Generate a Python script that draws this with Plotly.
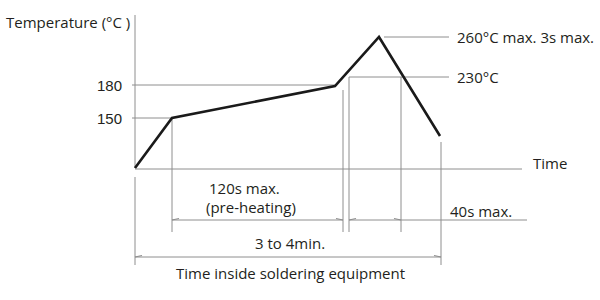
import plotly.graph_objects as go

# Schematic reflow profile (diagram units: x = time position, y = level, top-down)
profile_x = [135, 172, 335, 379, 440]
profile_y = [168, 118, 86, 37, 136]

level_labels = ["180", "150"]
level_y = [85, 118]
level_end_x = [335, 172]

peak_labels = ["260°C max. 3s max.", "230°C"]
peak_y = [37, 77]
peak_start_x = [384, 349]

# guide verticals: (x, y_top, y_bottom)
guide_x = [135, 172, 343, 349, 401, 441]
guide_top = [177, 118, 90, 77, 77, 142]
guide_bot = [265, 232, 232, 232, 232, 265]

dim_texts = ["120s max.", "(pre-heating)", "40s max.", "3 to 4min.", "Time inside soldering equipment"]

GRAY = "#8e8e8e"
TXT = "#231f20"
FONT = "Open Sans"

fig = go.Figure()

def line(xs, ys, color=GRAY, width=1):
    fig.add_trace(go.Scatter(x=xs, y=ys, mode="lines", line=dict(color=color, width=width),
                             hoverinfo="skip", showlegend=False))

# axes
line([135, 135], [15, 168])
line([135, 522], [169, 169])
# level lines
for yv, xe in zip(level_y, level_end_x):
    line([132, xe], [yv, yv])
for yv, xs in zip(peak_y, peak_start_x):
    line([xs, 449], [yv, yv])
# guide verticals
for gx, gt, gb in zip(guide_x, guide_top, guide_bot):
    line([gx, gx], [gt, gb])
# dimension lines
line([172, 343], [220, 220])
line([349, 527], [220, 220])
line([135, 441], [257, 257])

# arrow barbs
barbs = [(172, 220, 1), (343, 220, -1), (349, 220, 1), (401, 220, -1), (135, 257, 1), (441, 257, -1)]
for bx, by, d in barbs:
    line([bx, bx + d * 7], [by, by - 1.5], width=1.2)

# profile curve
line(profile_x, profile_y, color="#1a1a1a", width=2.6)

def text(x, y, s, anchor="left", size=15, family=FONT):
    fig.add_annotation(x=x, y=y, text=s, showarrow=False, xanchor=anchor, yanchor="middle",
                       font=dict(family=family, size=size, color=TXT))

text(4, 22, "Temperature (°C )")
for s, yv in zip(level_labels, level_y):
    text(124, yv, s, anchor="right", family="Liberation Sans")
for s, yv in zip(peak_labels, peak_y):
    text(455, yv, s)
text(531, 163, "Time")
text(207, 188, dim_texts[0])
text(204, 207, dim_texts[1])
text(448, 211, dim_texts[2])
text(290, 243, dim_texts[3], anchor="center")
text(290, 273, dim_texts[4], anchor="center")

fig.update_layout(
    width=600, height=300,
    margin=dict(l=0, r=0, t=0, b=0),
    paper_bgcolor="white", plot_bgcolor="white",
    xaxis=dict(range=[0, 600], visible=False, fixedrange=True),
    yaxis=dict(range=[300, 0], visible=False, fixedrange=True),
)
fig.write_html("out.html")
